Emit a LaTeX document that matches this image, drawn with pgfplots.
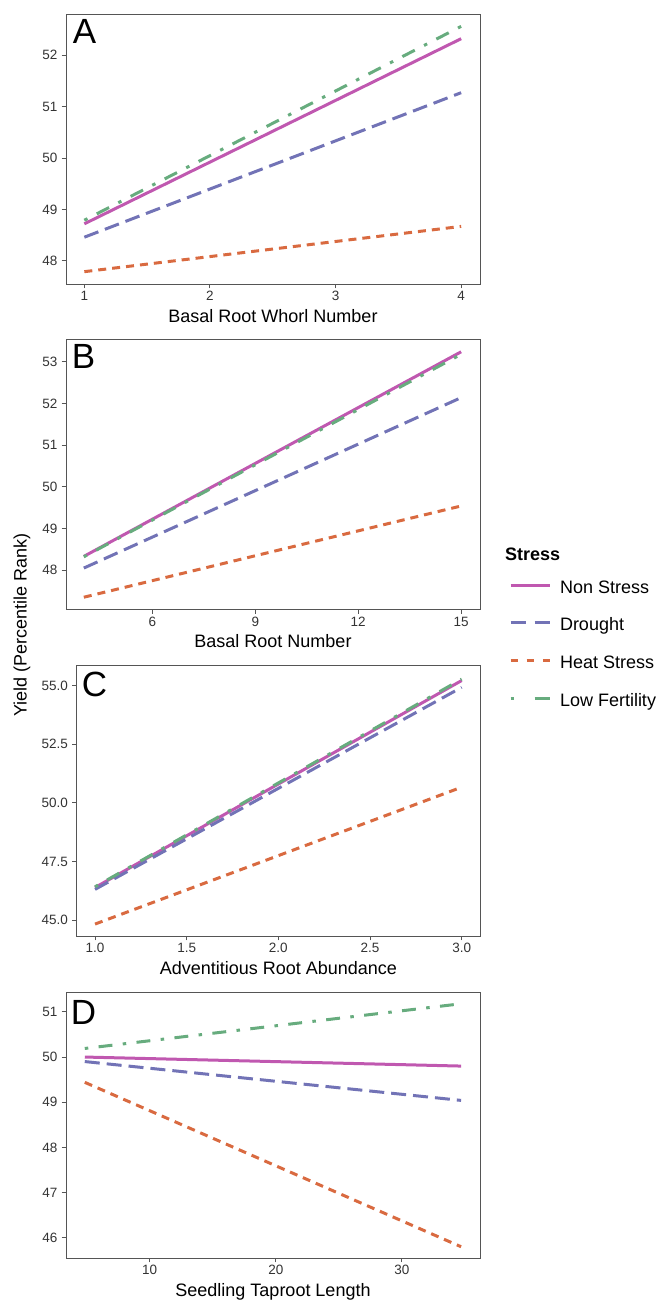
\documentclass[border=0pt]{standalone}
\usepackage{fontspec}
\setmainfont{Liberation Sans}
\usepackage{pgfplots}
\pgfplotsset{compat=1.18}
\definecolor{cNS}{HTML}{C058B0}
\definecolor{cDR}{HTML}{7273B6}
\definecolor{cHS}{HTML}{D96A40}
\definecolor{cLF}{HTML}{67AC7E}
\definecolor{bordergray}{HTML}{555555}
\definecolor{labgray}{HTML}{333333}
\newcommand{\tickfont}{\fontsize{13.5}{16}\selectfont}
\newcommand{\labfont}{\fontsize{18}{21}\selectfont}
\newcommand{\letfont}{\fontsize{35}{40}\selectfont}
\pgfplotsset{
  panel/.style={
    scale only axis, width=414pt, height=270pt,
    axis line style={draw=bordergray, line width=0.9pt},
    tick style={draw=bordergray, line width=0.9pt},
    tick align=outside, major tick length=4.3pt,
    xtick pos=bottom, ytick pos=left,
    /pgf/number format/assume math mode=true,
    tick label style={font=\tickfont, text=labgray, inner sep=0pt, outer sep=0pt},
    yticklabel style={anchor=east, xshift=-4.4pt},
    xticklabel style={anchor=north, yshift=-3.2pt},
    xlabel style={at={(axis description cs:0.5,0)}, anchor=base, yshift=-38.5pt, font=\labfont, inner sep=0pt},
    legend image code/.code={\draw[##1] (0pt,0pt) -- (39pt,0pt);},
  },
  sNS/.style={color=cNS, line width=3pt, solid},
  sDR/.style={color=cDR, line width=3pt, dash pattern=on 15pt off 7pt},
  sHS/.style={color=cHS, line width=3pt, dash pattern=on 8pt off 6pt},
  sLF/.style={color=cLF, line width=3pt, dash pattern=on 3.5pt off 10.4pt on 13.9pt off 10.4pt},
}
\begin{document}
\begin{tikzpicture}
\useasboundingbox (0pt,0pt) rectangle (656pt,-1301pt);
% Panel A
\begin{axis}[panel, at={(66pt,-284pt)}, anchor=south west,
  xmin=0.854, xmax=4.15, ymin=47.55, ymax=52.80,
  xtick={1,2,3,4}, ytick={48,49,50,51,52},
  xlabel={Basal Root Whorl Number}]
\addplot[sNS] coordinates {(1,48.72) (4,52.32)};
\addplot[sDR] coordinates {(1,48.46) (4,51.27)};
\addplot[sHS] coordinates {(1,47.79) (4,48.67)};
\addplot[sLF] coordinates {(1,48.79) (4,52.56)};
\node[anchor=north west, inner sep=0pt, font=\letfont, xshift=6.7pt, yshift=-5.3pt] at (rel axis cs:0,1) {A};
\end{axis}
% Panel B
\begin{axis}[panel, at={(66pt,-609.3pt)}, anchor=south west,
  xmin=3.48, xmax=15.55, ymin=47.06, ymax=53.54,
  xtick={6,9,12,15}, ytick={48,49,50,51,52,53},
  xlabel={Basal Root Number},
  legend style={at={(axis description cs:1.07005,0.1196)}, anchor=north west,
    draw=none, fill=none, inner sep=0pt, outer sep=0pt, font=\labfont,
    row sep=21.7pt,
    nodes={inner sep=0pt, text height=16pt, text depth=0pt},
    /tikz/every odd column/.append style={column sep=9pt}},
  legend cell align=left]
\addplot[sNS] coordinates {(4,48.33) (15,53.24)};
\addlegendentry{Non Stress}
\addplot[sDR, legend image code/.code={\draw[color=cDR, line width=3pt, dash pattern=on 15.7pt off 8.3pt] (0pt,0pt) -- (39pt,0pt);}] coordinates {(4,48.05) (15,52.14)};
\addlegendentry{Drought}
\addplot[sHS, legend image code/.code={\draw[color=cHS, line width=3pt, dash pattern=on 7.3pt off 8.9pt] (0pt,0pt) -- (39pt,0pt);}] coordinates {(4,47.35) (15,49.54)};
\addlegendentry{Heat Stress}
\addplot[sLF, legend image code/.code={\draw[color=cLF, line width=3pt, solid] (0pt,0pt) -- (3.8pt,0pt) (24pt,0pt) -- (39pt,0pt);}] coordinates {(4,48.32) (15,53.18)};
\addlegendentry{Low Fertility}
\node[anchor=north west, inner sep=0pt, font=\letfont, xshift=5.7pt, yshift=-4.7pt] at (rel axis cs:0,1) {B};
\end{axis}
% Panel C
\begin{axis}[panel, width=403.3pt, height=270.7pt, at={(76.7pt,-936pt)}, anchor=south west,
  xmin=0.90, xmax=3.10, ymin=44.32, ymax=55.87,
  xtick={1,1.5,2,2.5,3}, ytick={45,47.5,50,52.5,55},
  xticklabel style={/pgf/number format/.cd, fixed, fixed zerofill, precision=1},
  yticklabel style={/pgf/number format/.cd, fixed, fixed zerofill, precision=1},
  xlabel={Adventitious Root Abundance}]
\addplot[sNS] coordinates {(1,46.39) (3,55.22)};
\addplot[sDR] coordinates {(1,46.31) (3,54.93)};
\addplot[sHS] coordinates {(1,44.83) (3,50.67)};
\addplot[sLF] coordinates {(1,46.42) (3,55.28)};
\node[anchor=north west, inner sep=0pt, font=\letfont, xshift=5pt, yshift=-6.4pt] at (rel axis cs:0,1) {C};
\end{axis}
% Panel D
\begin{axis}[panel, height=266pt, at={(66pt,-1258pt)}, anchor=south west,
  xmin=3.36, xmax=36.2, ymin=45.55, ymax=51.44,
  xtick={10,20,30}, ytick={46,47,48,49,50,51},
  xlabel={Seedling Taproot Length}]
\addplot[sNS] coordinates {(4.85,50.00) (34.7,49.80)};
\addplot[sDR] coordinates {(4.85,49.90) (34.7,49.04)};
\addplot[sHS] coordinates {(4.85,49.44) (34.7,45.80)};
\addplot[sLF] coordinates {(4.85,50.19) (34.7,51.18)};
\node[anchor=north west, inner sep=0pt, font=\letfont, xshift=4.7pt, yshift=-8pt] at (rel axis cs:0,1) {D};
\end{axis}
\node[rotate=90, font=\labfont, anchor=center, inner sep=0pt] at (22pt,-625pt) {Yield (Percentile Rank)};
\node[anchor=base west, font=\labfont\bfseries, inner sep=0pt] at (505pt,-560pt) {Stress};
\end{tikzpicture}
\end{document}
